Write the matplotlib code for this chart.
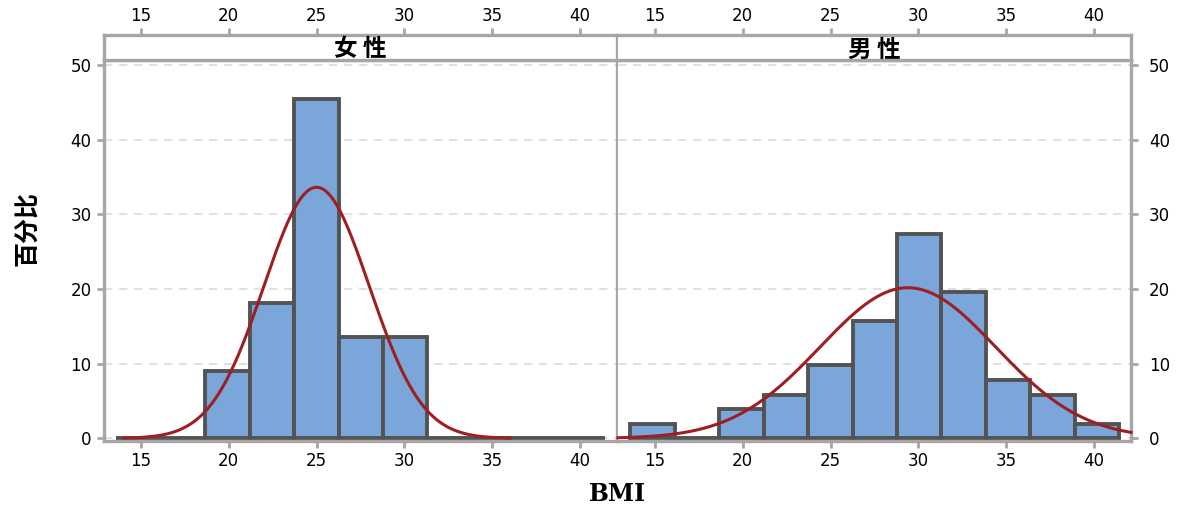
import numpy as np
import matplotlib.pyplot as plt

plt.rcParams['font.family'] = ['DejaVu Sans', 'Noto Sans CJK SC']

# histogram bins (BMI) and percentages per panel
bin_edges = [13.60, 16.13, 18.66, 21.19, 23.72, 26.25, 28.78, 31.31, 33.84, 36.37, 38.90, 41.43]
female_pct = [0, 0, 9.09, 18.18, 45.45, 13.64, 13.64, 0, 0, 0, 0]
male_pct = [1.96, 0, 3.92, 5.88, 9.80, 15.69, 27.45, 19.61, 7.84, 5.88, 1.96]

# fitted normal curves (mean, sd, drawn range)
female_fit = (25.0, 3.0, 14.0, 36.0)
male_fit = (29.4, 5.0, 12.9, 42.1)

panels = ["女 性", "男 性"]
x_ticks = [15, 20, 25, 30, 35, 40]
y_ticks = [0, 10, 20, 30, 40, 50]

spine_c = '#a6a6a6'
bar_c = '#7ba6d9'
edge_c = '#535353'
curve_c = '#9e1f23'

fig = plt.figure(figsize=(11.86, 5.09), dpi=100)

edges = np.array(bin_edges)
widths = np.diff(edges)

lefts = [104 / 1186, 618 / 1186]
w = 513 / 1186
bottom = 1 - 441 / 509
top = 1 - 60 / 509
strip_h = 25 / 509

for i, (pct, fit, name) in enumerate([(female_pct, female_fit, panels[0]),
                                       (male_pct, male_fit, panels[1])]):
    ax = fig.add_axes([lefts[i], bottom, w, top - bottom])
    ax.bar(edges[:-1], pct, width=widths, align='edge', color=bar_c,
           edgecolor=edge_c, linewidth=2.8, zorder=2)
    mu, sd, x0, x1 = fit
    xs = np.linspace(x0, x1, 300)
    ys = 100 * widths.mean() * np.exp(-0.5 * ((xs - mu) / sd) ** 2) / (sd * np.sqrt(2 * np.pi))
    ax.plot(xs, ys, color=curve_c, lw=2.2, zorder=3, clip_on=False)

    ax.set_xlim(12.9, 42.1)
    ax.set_ylim(-0.35, 50.7)
    ax.set_xticks(x_ticks)
    ax.set_yticks(y_ticks)
    ax.yaxis.grid(True, linestyle=(0, (5, 4)), color='#dcdcdc', lw=1.2)
    ax.set_axisbelow(True)
    for s in ax.spines.values():
        s.set_color(spine_c)
        s.set_linewidth(2.4)
    ax.tick_params(color=spine_c, width=2, length=5, labelsize=12, pad=3)
    if i == 1:
        ax.yaxis.tick_right()
        ax.spines['left'].set_visible(False)
        ax.tick_params(axis='y', pad=8)
    else:
        ax.tick_params(axis='y', pad=4)

    # strip with panel title and top ticks
    st = fig.add_axes([lefts[i], top, w, strip_h])
    st.set_xlim(ax.get_xlim())
    st.set_ylim(0, 1)
    st.set_yticks([])
    st.set_xticks(x_ticks)
    st.xaxis.tick_top()
    st.tick_params(axis='x', color=spine_c, width=2, length=5, labelsize=12, pad=2)
    for s in st.spines.values():
        s.set_color(spine_c)
        s.set_linewidth(2.4)
    if i == 1:
        st.spines['left'].set_visible(False)
    st.text(0.5, 0.42, name, transform=st.transAxes, ha='center', va='center',
            fontsize=17, fontweight='bold', family=['Noto Sans CJK SC'])

fig.text(0.024, 1 - 228 / 509, "百分比", rotation=90, ha='center', va='center',
         fontsize=18, fontweight='bold', family=['Noto Sans CJK SC'])
fig.text(617 / 1186, 1 - 494 / 509, "BMI", ha='center', va='center',
         fontsize=17, fontweight='bold', family=['DejaVu Serif'])

fig.savefig('out.png', dpi=100)
